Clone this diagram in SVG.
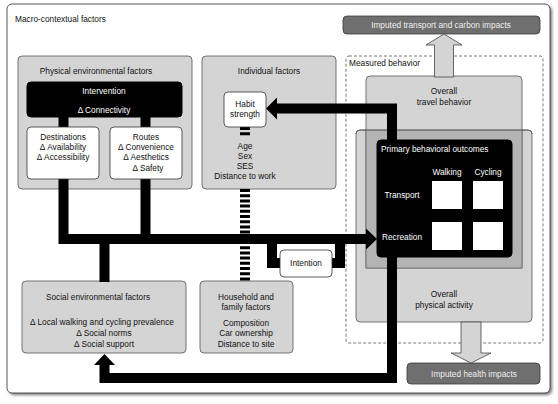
<svg xmlns="http://www.w3.org/2000/svg" width="558" height="404" viewBox="0 0 558 404">
<defs>
<style>
text{font-family:"Liberation Sans",Arial,sans-serif;font-size:8.3px;fill:#111;}
.c{text-anchor:middle;}
.w{fill:#fff;}
.lt{fill:#eee;}
.gbox{fill:#d4d4d4;stroke:#555;stroke-width:0.8;}
.wbox{fill:#fff;stroke:#333;stroke-width:0.8;}
.bbox{fill:#000;stroke:#000;}
.dbox{fill:#6f6f6f;stroke:#3a3a3a;stroke-width:0.8;}
.conn{fill:none;stroke:#000;stroke-width:10;stroke-linejoin:miter;}
.dash{fill:none;stroke:#000;stroke-width:10;stroke-dasharray:3 2.2;}
.big{fill:#d4d4d4;stroke:#444;stroke-width:0.8;}
</style>
<filter id="sh" x="-5%" y="-5%" width="110%" height="110%">
<feGaussianBlur stdDeviation="1.5"/>
</filter>
</defs>

<g id="macro">
<rect x="9" y="6" width="543" height="389" rx="5" fill="#777" filter="url(#sh)"/>
<rect x="7" y="4" width="543" height="389" rx="5" fill="#fff" stroke="#444" stroke-width="0.9"/>
<text x="15" y="22">Macro-contextual factors</text>
</g>

<g id="physical">
<rect class="gbox" x="18" y="56" width="174" height="133" rx="4"/>
<text class="c" x="96" y="74">Physical environmental factors</text>
</g>

<g id="individual">
<rect class="gbox" x="202" y="56" width="134" height="133" rx="4"/>
<text class="c" x="269" y="74">Individual factors</text>
<text class="c" x="245" y="149">Age</text>
<text class="c" x="245" y="159">Sex</text>
<text class="c" x="245" y="169">SES</text>
<text class="c" x="245" y="179">Distance to work</text>
</g>

<g id="social">
<rect class="gbox" x="22" y="281" width="164" height="72" rx="4"/>
<text class="c" x="98" y="300">Social environmental factors</text>
<text class="c" x="102" y="325">Δ Local walking and cycling prevalence</text>
<text class="c" x="104" y="336">Δ Social norms</text>
<text class="c" x="104" y="347">Δ Social support</text>
</g>

<g id="household">
<rect class="gbox" x="200" y="281" width="93" height="72" rx="4"/>
<text class="c" x="246" y="300">Household and</text>
<text class="c" x="246" y="310">family factors</text>
<text class="c" x="246" y="326">Composition</text>
<text class="c" x="246" y="336">Car ownership</text>
<text class="c" x="246" y="347">Distance to site</text>
</g>

<g id="measured">
<rect x="346" y="56" width="197" height="287" rx="3" fill="none" stroke="#555" stroke-width="0.8" stroke-dasharray="3 2"/>
<text x="349" y="66">Measured behavior</text>
</g>

<g id="overall-physical-activity">
<rect class="gbox" x="356" y="130" width="176" height="192" rx="4"/>
<text class="c" x="444" y="297">Overall</text>
<text class="c" x="444" y="308">physical activity</text>
</g>

<g id="overall-travel-behavior">
<path d="M366,268 V80 a4,4 0 0 1 4,-4 H518 a4,4 0 0 1 4,4 V268 Z" fill="#d4d4d4" stroke="#555" stroke-width="0.8"/>
<rect x="366" y="130" width="156" height="138" fill="#b4b4b4" stroke="#555" stroke-width="0.6"/>
<path d="M356,134 a4,4 0 0 1 4,-4 H528 a4,4 0 0 1 4,4" fill="none" stroke="#555" stroke-width="0.8"/>
<text class="c" x="444" y="94">Overall</text>
<text class="c" x="444" y="105">travel behavior</text>
</g>

<g id="imputed-transport">
<rect class="dbox" x="343" y="16" width="197" height="18" rx="4"/>
<text class="c lt" x="441" y="28">Imputed transport and carbon impacts</text>
</g>

<g id="imputed-health">
<rect class="dbox" x="407" y="363" width="133" height="21" rx="4"/>
<text class="c lt" x="474" y="377">Imputed health impacts</text>
</g>

<g id="connectors">
<path class="conn" d="M63.5,116 V128"/>
<path class="conn" d="M145.5,116 V128"/>
<path class="conn" d="M63.5,178 V239 H367"/>
<path class="conn" d="M145.5,178 V239"/>
<path class="conn" d="M104.5,239 V282"/>
<polygon points="366,228.5 377,239 366,249.5" fill="#000"/>
<path class="conn" d="M272,239 V263 H340 V239"/>
<path class="dash" d="M245,127 V137"/>
<path class="dash" d="M245,189 V281"/>
<path class="conn" d="M392,141 V108.5 H276"/>
<polygon points="277,97.5 266,108.5 277,119.5" fill="#000"/>
<path class="conn" d="M392,256 V378 H104.5 V364"/>
<polygon points="94,365 104.5,354 115,365" fill="#000"/>
<polygon class="big" points="434.5,77 434.5,45 426,45 444,34 462,45 453.5,45 453.5,77"/>
<polygon class="big" points="461,322 461,353 451,353 471,363 491,353 481,353 481,322"/>
</g>

<g id="intervention">
<rect class="bbox" x="27" y="82" width="155" height="35" rx="4"/>
<text class="c w" x="104" y="94">Intervention</text>
<text class="c w" x="104" y="113">Δ Connectivity</text>
</g>

<g id="destinations">
<rect class="wbox" x="27" y="127" width="72" height="52" rx="4"/>
<text class="c" x="63" y="140">Destinations</text>
<text class="c" x="63" y="150">Δ Availability</text>
<text class="c" x="63" y="160">Δ Accessibility</text>
</g>

<g id="routes">
<rect class="wbox" x="110" y="127" width="72" height="52" rx="4"/>
<text class="c" x="146" y="140">Routes</text>
<text class="c" x="146" y="150">Δ Convenience</text>
<text class="c" x="146" y="160">Δ Aesthetics</text>
<text class="c" x="148" y="171">Δ Safety</text>
</g>

<g id="habit">
<rect class="wbox" x="224" y="92" width="42" height="35" rx="4"/>
<text class="c" x="245" y="107">Habit</text>
<text class="c" x="245" y="117">strength</text>
</g>

<g id="intention">
<rect class="wbox" x="280" y="250" width="52" height="27" rx="4"/>
<text class="c" x="306" y="266">Intention</text>
</g>

<g id="primary-outcomes">
<rect class="bbox" x="377" y="140" width="135" height="117" rx="4"/>
<text class="w" x="381" y="152">Primary behavioral outcomes</text>
<text class="c w" x="447" y="175">Walking</text>
<text class="c w" x="488" y="175">Cycling</text>
<text class="c w" x="402" y="198">Transport</text>
<text class="c w" x="402" y="240">Recreation</text>
<rect x="432" y="181" width="30" height="28" fill="#fff"/>
<rect x="473" y="181" width="30" height="28" fill="#fff"/>
<rect x="432" y="222" width="30" height="28" fill="#fff"/>
<rect x="473" y="222" width="30" height="28" fill="#fff"/>
</g>
</svg>
